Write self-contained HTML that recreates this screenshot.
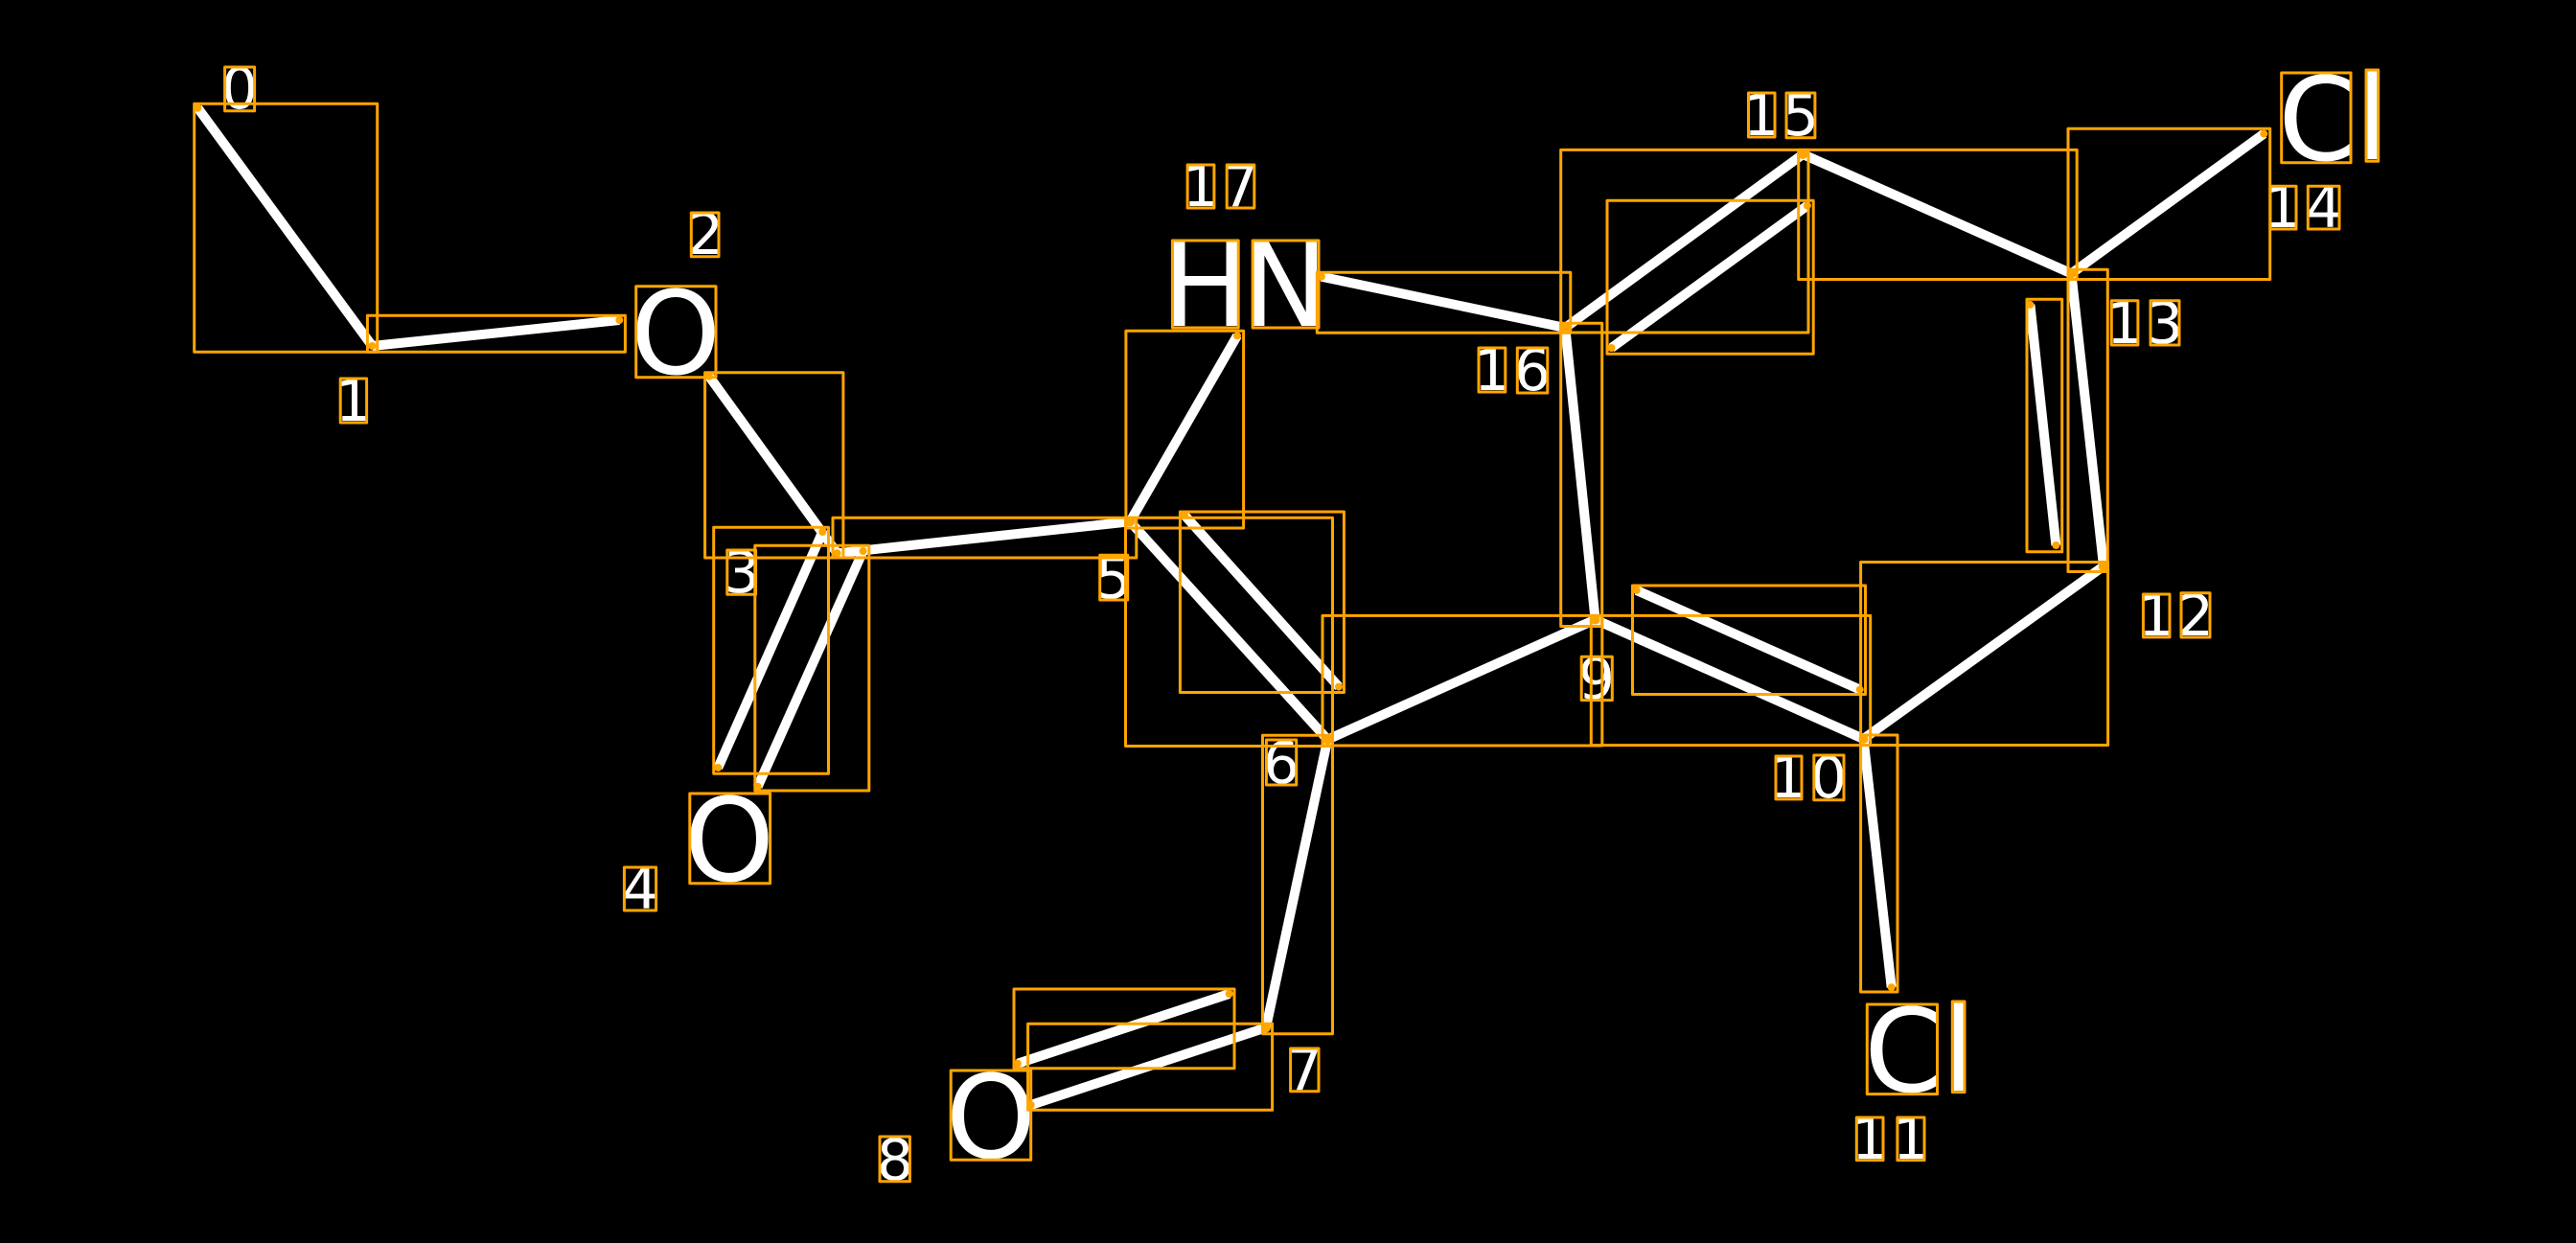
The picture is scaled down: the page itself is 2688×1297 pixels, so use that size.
<!DOCTYPE html>
<html><head><meta charset="utf-8"><style>
html,body{margin:0;padding:0;background:#000;width:2688px;height:1297px;overflow:hidden}
svg{display:block}
.b line{stroke:#fff;stroke-width:10;stroke-linecap:butt}
.r rect{fill:none;stroke:#ffa500;stroke-width:3;stroke-linejoin:round}
.d circle{fill:#ffa500}
text{font-family:"DejaVu Sans",sans-serif;fill:#fff;text-anchor:middle}
.s text{font-size:60px}
.l text{font-size:120px}
</style></head><body>
<svg xmlns="http://www.w3.org/2000/svg" width="2688" height="1297" viewBox="0 0 2688 1297">
<rect width="2688" height="1297" fill="#000"/>
<g class="s">
<text x="250" y="113">0</text>
<text x="369" y="439">1</text>
<text x="736" y="265">2</text>
<text x="774" y="618">3</text>
<text x="668" y="948">4</text>
<text x="1162" y="624">5</text>
<text x="1337" y="817">6</text>
<text x="1361" y="1137">7</text>
<text x="934" y="1231">8</text>
<text x="1666" y="729">9</text>
<text x="1866" y="832">1</text><text x="1908" y="832">0</text>
<text x="1951" y="1209">1</text><text x="1994" y="1209">1</text>
<text x="2250" y="663">1</text><text x="2291" y="663">2</text>
<text x="2217" y="358">1</text><text x="2259" y="358">3</text>
<text x="2382" y="237">1</text><text x="2425" y="237">4</text>
<text x="1838" y="141">1</text><text x="1879" y="141">5</text>
<text x="1557" y="407">1</text><text x="1599" y="407">6</text>
<text x="1253" y="215">1</text><text x="1294" y="215">7</text>
</g>
<g class="l">
<text x="705" y="390">O</text>
<text x="761" y="919">O</text>
<text x="1034" y="1208">O</text>
<text x="1258" y="340">H</text>
<text x="1341" y="340">N</text>
<text x="1987" y="1139">C</text>
<text x="2044" y="1138">l</text>
<text x="2419" y="167">C</text>
<text x="2475" y="166">l</text>
</g>
<g class="b">
<line x1="206.4" y1="112.7" x2="388.4" y2="361"/>
<line x1="388.4" y1="361" x2="646.3" y2="334"/>
<line x1="740" y1="392.7" x2="873.6" y2="577.3"/>
<line x1="858.3" y1="555" x2="749.3" y2="801"/>
<line x1="900.6" y1="575" x2="790.7" y2="820.7"/>
<line x1="873.6" y1="577.3" x2="1179.2" y2="544.3"/>
<line x1="1179.2" y1="544.3" x2="1291" y2="350.3"/>
<line x1="1179.2" y1="544.3" x2="1385.3" y2="771.7"/>
<line x1="1236" y1="537.5" x2="1397" y2="716.6"/>
<line x1="1385.3" y1="771.7" x2="1321" y2="1072.3"/>
<line x1="1321" y1="1072.3" x2="1075.7" y2="1153"/>
<line x1="1282.7" y1="1037" x2="1061.9" y2="1109.7"/>
<line x1="1385.3" y1="771.7" x2="1664.6" y2="646.5"/>
<line x1="1664.6" y1="646.5" x2="1944.5" y2="771"/>
<line x1="1707.7" y1="615.9" x2="1940.7" y2="719.6"/>
<line x1="1944.5" y1="771" x2="2194.7" y2="591"/>
<line x1="1944.5" y1="771" x2="1973.7" y2="1030.2"/>
<line x1="2161.4" y1="285.4" x2="2195" y2="590.4"/>
<line x1="2118.4" y1="317.9" x2="2145.4" y2="569"/>
<line x1="2161.4" y1="285.4" x2="2362.3" y2="139.6"/>
<line x1="1881.3" y1="161" x2="2161.4" y2="285.4"/>
<line x1="1633.3" y1="342" x2="1881.3" y2="161"/>
<line x1="1681.5" y1="363" x2="1885.9" y2="214.6"/>
<line x1="1633.3" y1="342" x2="1664.6" y2="646.5"/>
<line x1="1378.9" y1="288.7" x2="1633.3" y2="342"/>
</g>
<g class="r">
<rect x="202.7" y="108.3" width="191" height="259"/>
<rect x="383.4" y="329.3" width="269" height="38"/>
<rect x="735.6" y="388.7" width="144.3" height="193.3"/>
<rect x="744.7" y="550.3" width="119.8" height="257"/>
<rect x="787.8" y="569.3" width="119" height="255.7"/>
<rect x="869" y="540.3" width="316.8" height="41.7"/>
<rect x="1174.5" y="540.3" width="216" height="238.2"/>
<rect x="1231.4" y="534" width="171" height="188.5"/>
<rect x="1174.9" y="345.3" width="122.7" height="205.7"/>
<rect x="1317.5" y="767.3" width="73" height="311.4"/>
<rect x="1072.6" y="1068.3" width="255" height="90"/>
<rect x="1058" y="1032" width="230" height="82.7"/>
<rect x="1380" y="642.4" width="291.8" height="135.6"/>
<rect x="1660.3" y="642.4" width="291.4" height="135.2"/>
<rect x="1703.5" y="611" width="243" height="113.5"/>
<rect x="1941.6" y="586.5" width="258" height="191"/>
<rect x="1941.6" y="767" width="38.4" height="268"/>
<rect x="2158" y="281.2" width="41.3" height="315.3"/>
<rect x="2115" y="312.2" width="36.7" height="263.6"/>
<rect x="2158" y="134.2" width="210.7" height="157.3"/>
<rect x="1876.7" y="156.4" width="290.5" height="135.1"/>
<rect x="1628.7" y="156.4" width="258.3" height="190.6"/>
<rect x="1677" y="209.2" width="215.2" height="160"/>
<rect x="1628.7" y="337.3" width="43" height="316.2"/>
<rect x="1374.3" y="284.3" width="264.5" height="63"/>
<!-- labels -->
<rect x="234.6" y="70" width="31" height="45.7"/>
<rect x="355.2" y="395" width="27.4" height="46"/>
<rect x="721.3" y="222" width="28.7" height="45.7"/>
<rect x="758.8" y="574" width="29.8" height="46.3"/>
<rect x="651.4" y="905" width="33.2" height="45"/>
<rect x="1147.7" y="579.3" width="29" height="46.7"/>
<rect x="1321.4" y="772" width="31.3" height="47"/>
<rect x="1346.6" y="1094" width="29.4" height="44.7"/>
<rect x="918" y="1186" width="31.4" height="46.7"/>
<rect x="1650.2" y="685.3" width="32.1" height="45.3"/>
<rect x="1853" y="789" width="27" height="44.9"/>
<rect x="1892.8" y="788" width="31.2" height="46.7"/>
<rect x="1937.3" y="1166" width="27.7" height="44.6"/>
<rect x="1979.9" y="1166" width="28.1" height="44.6"/>
<rect x="2236.4" y="620" width="27.6" height="44.9"/>
<rect x="2276" y="618.8" width="30" height="46.2"/>
<rect x="2203.3" y="313.7" width="27.6" height="46.3"/>
<rect x="2244" y="313.7" width="30" height="46.3"/>
<rect x="2369" y="194.3" width="27" height="44.7"/>
<rect x="2408.3" y="194.3" width="32.7" height="44.7"/>
<rect x="1824.5" y="97" width="27.5" height="46"/>
<rect x="1864" y="97" width="29.9" height="46.8"/>
<rect x="1543" y="363" width="27.8" height="46"/>
<rect x="1583.3" y="363" width="31.5" height="47"/>
<rect x="1239.1" y="172" width="27.8" height="45"/>
<rect x="1280.2" y="172" width="28.6" height="45"/>
<!-- atoms -->
<rect x="663.7" y="298.7" width="83.3" height="95"/>
<rect x="719.8" y="828" width="83.8" height="93.7"/>
<rect x="992.2" y="1117" width="83.5" height="93.3"/>
<rect x="1223.4" y="251" width="68.8" height="91"/>
<rect x="1307.1" y="251" width="68.9" height="91"/>
<rect x="1948.3" y="1048" width="73.2" height="93.6"/>
<rect x="2037.3" y="1045" width="12.7" height="94.6"/>
<rect x="2380.7" y="76" width="72.3" height="93.8"/>
<rect x="2469" y="73" width="12.7" height="95.3"/>
</g>
<g class="d">
<circle cx="206.4" cy="112.7" r="4"/><circle cx="388.4" cy="361" r="4"/><circle cx="646.3" cy="334" r="4"/>
<circle cx="740" cy="392.7" r="4"/><circle cx="873.6" cy="577.3" r="4"/><circle cx="858.3" cy="555" r="4"/>
<circle cx="749.3" cy="801" r="4"/><circle cx="900.6" cy="575" r="4"/><circle cx="790.7" cy="820.7" r="4"/>
<circle cx="1179.2" cy="544.3" r="5"/><circle cx="1291" cy="350.3" r="4"/><circle cx="1385.3" cy="771.7" r="5"/>
<circle cx="1236" cy="537.5" r="4"/><circle cx="1397" cy="716.6" r="4"/><circle cx="1321" cy="1072.3" r="5"/>
<circle cx="1075.7" cy="1153" r="4"/><circle cx="1282.7" cy="1037" r="4"/><circle cx="1061.9" cy="1109.7" r="4"/>
<circle cx="1664.6" cy="646.5" r="5"/><circle cx="1944.5" cy="771" r="5"/><circle cx="1707.7" cy="615.9" r="4"/>
<circle cx="1940.7" cy="719.6" r="4"/><circle cx="2194.7" cy="591" r="5"/><circle cx="1973.7" cy="1030.2" r="4"/>
<circle cx="2161.4" cy="285.4" r="5"/><circle cx="2118.4" cy="317.9" r="4"/><circle cx="2145.4" cy="569" r="4"/>
<circle cx="2362.3" cy="139.6" r="4"/><circle cx="1881.3" cy="161" r="5"/><circle cx="1633.3" cy="342" r="5"/>
<circle cx="1681.5" cy="363" r="4"/><circle cx="1885.9" cy="214.6" r="4"/><circle cx="1378.9" cy="288.7" r="4"/>
</g>
</svg>
</body></html>
